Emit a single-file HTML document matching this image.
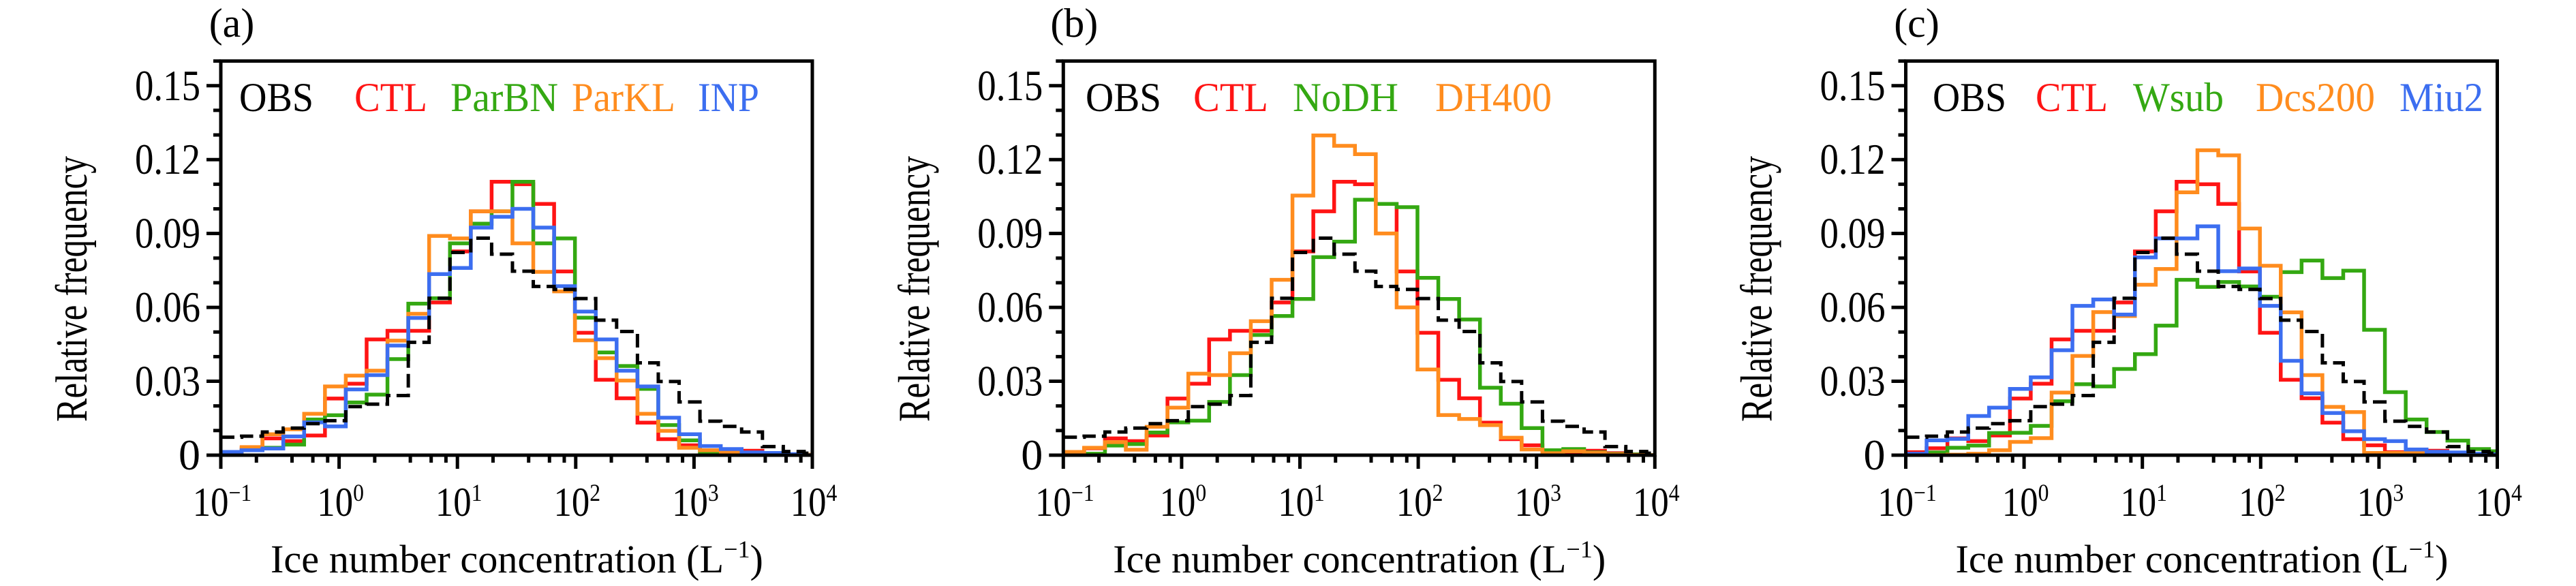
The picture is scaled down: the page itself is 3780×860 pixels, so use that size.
<!DOCTYPE html>
<html><head><meta charset="utf-8"><style>
html,body{margin:0;padding:0;background:#fff;}
svg{display:block;}
svg text{font-family:"Liberation Serif","DejaVu Serif",serif;}
</style></head>
<body>
<svg id="fig" xmlns="http://www.w3.org/2000/svg" width="3780" height="860" viewBox="0 0 3780 860" font-family="Liberation Serif, serif"></svg>
<script>
// ---- data ----
const binEdgeStart = 0.1;
const binRatio = 1.5;
const yTicksMajor = [0, 0.03, 0.06, 0.09, 0.12, 0.15];
const yTickLabels = ["0", "0.03", "0.06", "0.09", "0.12", "0.15"];
const xDecades = [-1, 0, 1, 2, 3, 4];
const panelLetters = ["(a)", "(b)", "(c)"];
const OBS = [0.0073,0.0077,0.0094,0.011,0.0128,0.014,0.0197,0.0207,0.0242,0.0458,0.0637,0.0823,0.0881,0.0816,0.0747,0.0685,0.0673,0.0636,0.0548,0.0502,0.0375,0.0299,0.0216,0.0138,0.0117,0.0094,0.0035,0.0015,0.0008];
const CTL = [0.0012,0.0028,0.0068,0.0057,0.008,0.023,0.029,0.047,0.0505,0.0505,0.062,0.0827,0.099,0.111,0.110,0.102,0.0746,0.0497,0.0306,0.0231,0.0132,0.0065,0.004,0.0012,0.001,0.0018,0.0008,0.0003,0];
const ParBN = [0.001,0.002,0.003,0.0043,0.0145,0.0162,0.0214,0.0246,0.039,0.0615,0.0637,0.086,0.094,0.099,0.111,0.086,0.088,0.0558,0.0417,0.0362,0.0269,0.0122,0.006,0.0013,0.0006,0.0003,0.0002,0.0001,0];
const ParKL = [0.0012,0.0033,0.0085,0.0105,0.0168,0.0279,0.0323,0.0343,0.0465,0.0574,0.089,0.088,0.099,0.099,0.086,0.0744,0.0665,0.0466,0.0394,0.0303,0.0168,0.0099,0.003,0.002,0.001,0.0005,0.0004,0.0002,0.0002];
const INP = [0.0013,0.002,0.0027,0.0076,0.0133,0.0117,0.0267,0.0325,0.0445,0.0557,0.0735,0.076,0.0924,0.0968,0.100,0.0924,0.0686,0.0583,0.047,0.0343,0.0279,0.0152,0.0085,0.0037,0.0025,0.0011,0.0009,0.0004,0];
const NoDH = [0.0005,0.0006,0.0039,0.0045,0.0092,0.0133,0.014,0.0216,0.0325,0.0488,0.0565,0.0634,0.0804,0.0867,0.1037,0.102,0.1007,0.072,0.0634,0.0551,0.0274,0.0209,0.011,0.002,0.0025,0.0011,0.0005,0.0003,0];
const DH400 = [0.0013,0.003,0.0053,0.0022,0.0115,0.0193,0.0331,0.0325,0.0414,0.0544,0.0712,0.1054,0.1298,0.1256,0.1222,0.090,0.060,0.0348,0.0163,0.0147,0.0122,0.0071,0.0023,0.0008,0.0016,0.0009,0.0003,0.0001,0];
const Wsub = [0.0005,0.0011,0.003,0.0039,0.009,0.0091,0.0119,0.0219,0.0288,0.0279,0.035,0.041,0.0526,0.0712,0.0683,0.0703,0.0685,0.0643,0.0743,0.079,0.0719,0.0749,0.0509,0.0256,0.0145,0.0094,0.0059,0.0025,0.0016];
const Dcs200 = [0,0,0.0002,0.0006,0.002,0.0054,0.0069,0.0254,0.0403,0.0581,0.0565,0.0692,0.0756,0.1067,0.1238,0.1217,0.092,0.0769,0.058,0.0325,0.0196,0.0175,0.0009,0.0009,0.0009,0.0006,0.0003,0,0];
const Miu2 = [0.0006,0.006,0.0066,0.0159,0.0193,0.0269,0.0316,0.0426,0.0606,0.0632,0.0571,0.0803,0.088,0.088,0.0929,0.0747,0.0758,0.0606,0.0383,0.0251,0.0171,0.0097,0.0065,0.0057,0.0023,0.0014,0.0011,0.0006,0.0003];
const panelSeriesNames = [["OBS","CTL","ParBN","ParKL","INP"],["OBS","CTL","NoDH","DH400"],["OBS","CTL","Wsub","Dcs200","Miu2"]];
const seriesData = {OBS,CTL,ParBN,ParKL,INP,NoDH,DH400,Wsub,Dcs200,Miu2};

// ---- styling / layout ----
const colors = {OBS:"#000",CTL:"#ff1414",ParBN:"#34a812",ParKL:"#ff8c1e",INP:"#3c6ef0",NoDH:"#34a812",DH400:"#ff8c1e",Wsub:"#34a812",Dcs200:"#ff8c1e",Miu2:"#3c6ef0"};
const legendX = [[351,520,661,839,1024],[1593,1751,1897,2106],[2836,2987,3130,3310,3521]];
const legendW = [[109,107,158,152,90],[111,110,155,171],[108,106,133,175,123]];
const panelLeft = [324, 1560.3, 2796.5];
const PW = 868, Y0 = 668, PXPER = 3615, YMAX = 0.16;
const NS = "http://www.w3.org/2000/svg";
const svg = document.getElementById("fig");
function mk(tag, attrs, parent){const e=document.createElementNS(NS,tag);for(const k in attrs)e.setAttribute(k,attrs[k]);(parent||svg).appendChild(e);return e;}

panelLetters.forEach((letter, p) => {
  const L = panelLeft[p];
  const xs = v => L + (Math.log10(v) + 1) / 5 * PW;
  const ys = v => Y0 - v * PXPER;
  const g = mk("g", {});
  
  
  const clipId = "clip" + p;
  const cp = mk("clipPath", {id: clipId}, g);
  mk("rect", {x: L, y: ys(YMAX), width: PW, height: Y0 - ys(YMAX)}, cp);

  const names = panelSeriesNames[p];
  const order = names.slice(1).concat(["OBS"]);
  order.forEach(name => {
    const vals = seriesData[name];
    let d = "";
    vals.forEach((v, k) => {
      const x0 = xs(binEdgeStart * Math.pow(binRatio, k));
      const x1 = xs(binEdgeStart * Math.pow(binRatio, k + 1));
      d += (k === 0 ? "M" + x0 + "," + ys(v) : "V" + ys(v)) + "H" + x1;
    });
    const path = mk("path", {d: d, fill: "none", stroke: colors[name], "stroke-width": name === "OBS" ? 5 : 5.5,
      "clip-path": "url(#" + clipId + ")", "stroke-dasharray": name === "OBS" ? "20 9" : "none"}, g);
    
    
  });

  const frame = mk("rect", {x: L, y: ys(YMAX), width: PW, height: Y0 - ys(YMAX), fill: "none", stroke: "#000", "stroke-width": 5}, g);
  
  

  for (let i = 0; i <= 16; i++) {
    const y = ys(i * 0.01);
    const major = i % 3 === 0;
    const t = mk("line", {x1: L - (major ? 21 : 11), x2: L, y1: y, y2: y, stroke: "#000", "stroke-width": 5}, g);
    
    
  }
  yTicksMajor.forEach((v, i) => {
    const lbl = yTickLabels[i];
    const attrs = {x: L - 30, y: ys(v) + 21, "font-size": 64, "text-anchor": "end", fill: "#000"};
    if (lbl.length > 1) { attrs.textLength = 96; attrs.lengthAdjust = "spacingAndGlyphs"; }
    const t = mk("text", attrs, g);
    t.textContent = lbl;
    
    
  });
  xDecades.forEach((dec, i) => {
    const x = xs(Math.pow(10, dec));
    const t = mk("line", {x1: x, x2: x, y1: Y0, y2: Y0 + 20, stroke: "#000", "stroke-width": 5}, g);
    
    
    if (i < xDecades.length - 1) {
      [2, 4, 6, 8].forEach(m => {
        const xm = xs(m * Math.pow(10, dec));
        const tm = mk("line", {x1: xm, x2: xm, y1: Y0, y2: Y0 + 11, stroke: "#000", "stroke-width": 5}, g);
        
        
      });
    }
    const lg = mk("g", {transform: "translate(" + (x + 2) + ",757) scale(0.88,1)"}, g);
    const lab = mk("text", {x: 0, y: 0, "font-size": 60, "text-anchor": "middle", fill: "#000"}, lg);
    
    
    lab.appendChild(document.createTextNode("10"));
    const sup = mk("tspan", {dy: -22, "font-size": 36}, lab);
    sup.textContent = dec < 0 ? "\u2212" + Math.abs(dec) : String(dec);
  });

  const yt = mk("text", {x: 0, y: 0, "font-size": 66, "text-anchor": "middle", fill: "#000",
    transform: "translate(" + (L - 197) + ",424) rotate(-90)", textLength: 390, lengthAdjust: "spacingAndGlyphs"}, g);
  yt.textContent = "Relative frequency";
  
  

  const xt = mk("text", {x: L + 73, y: 840, "font-size": 58, fill: "#000", textLength: 723, lengthAdjust: "spacingAndGlyphs"}, g);
  
  
  xt.appendChild(document.createTextNode("Ice number concentration (L"));
  const xs1 = mk("tspan", {dy: -22, "font-size": 36}, xt);
  xs1.textContent = "\u22121";
  const xs2 = mk("tspan", {dy: 22}, xt);
  xs2.textContent = ")";

  const pl = mk("text", {x: L + 16, y: 54, "font-size": 60, "text-anchor": "middle", fill: "#000"}, g);
  pl.textContent = letter;
  
  

  names.forEach((name, i) => {
    const t = mk("text", {x: legendX[p][i], y: 163, "font-size": 60, fill: colors[name], textLength: legendW[p][i], lengthAdjust: "spacingAndGlyphs"}, g);
    t.textContent = name;
    
    
  });
});
</script>
</body></html>
